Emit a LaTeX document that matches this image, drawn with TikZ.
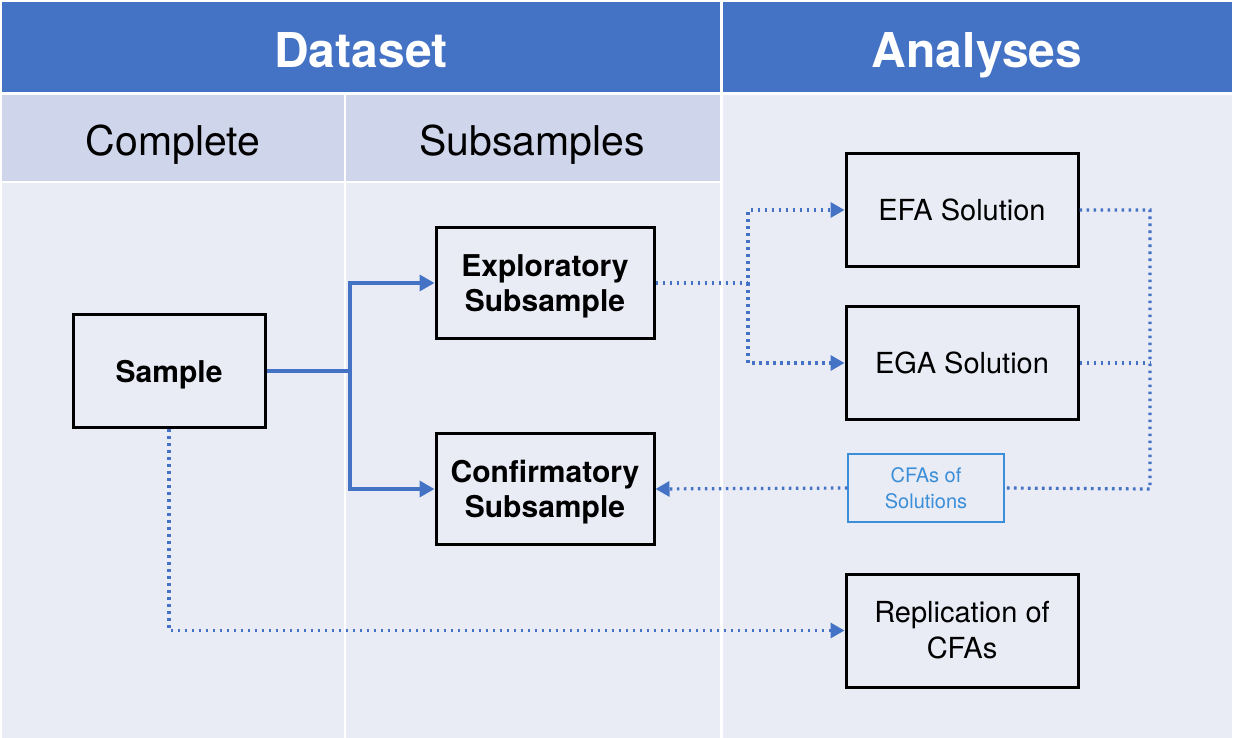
\documentclass[tikz,border=0pt]{standalone}
\usepackage{fontspec}
\setmainfont{TeX Gyre Heros}
\usetikzlibrary{arrows.meta}
\definecolor{hdrblue}{HTML}{4472C4}
\definecolor{subband}{HTML}{CFD5EA}
\definecolor{bodyband}{HTML}{E9EBF5}
\definecolor{linkblue}{HTML}{4472C4}
\definecolor{noteblue}{HTML}{3B8ED8}
\tikzset{
  hdrtext/.style={text=white, font=\fontsize{48}{56}\selectfont\bfseries, anchor=base, inner sep=0pt},
  subtext/.style={text=black, font=\fontsize{41}{48}\selectfont, anchor=base, inner sep=0pt},
  boxbase/.style={draw=black, line width=3pt, inner sep=0pt, align=center},
  boldbox/.style={boxbase, text depth=0pt, font=\fontsize{30}{35}\selectfont\bfseries},
  plainbox/.style={boxbase, font=\fontsize{29}{36}\selectfont},
  notebox/.style={draw=noteblue, line width=1.2pt, text=noteblue, fill=bodyband,
    inner sep=0pt, align=center, font=\fontsize{20}{26}\selectfont,
    minimum width=156pt, minimum height=68pt},
  solidlink/.style={draw=linkblue, line width=3.5pt,
    -{Triangle[length=15pt,width=16pt]}},
  dotline/.style={draw=linkblue, line width=3.2pt, dash pattern=on 2.6pt off 4.4pt},
  dotlink/.style={dotline, -{Triangle[length=14pt,width=15pt]}},
}
\begin{document}
\begin{tikzpicture}[x=1pt,y=-1pt]
\useasboundingbox (0,0) rectangle (1234,738);
\fill[white] (0,0) rectangle (1234,738);

% table cells
\fill[hdrblue] (2,2) rectangle (720,92);
\fill[hdrblue] (722.5,2) rectangle (1232,92);
\fill[subband] (2,95.5) rectangle (343.5,181);
\fill[subband] (345.5,95.5) rectangle (720,181);
\fill[bodyband] (2,183) rectangle (343.5,738);
\fill[bodyband] (345.5,183) rectangle (720,738);
\fill[bodyband] (722.5,95.5) rectangle (1232,738);

% column headings
\node[hdrtext] (dataset) at (361,68) {Dataset};
\node[hdrtext] (analyses) at (977,68) {Analyses};
\node[subtext] (complete) at (173,156) {Complete};
\node[subtext] (subsamples) at (532,156) {Subsamples};

% boxes
\node[boldbox, minimum width=192pt, minimum height=113pt] (sample) at (169,371) {Sample};
\node[boldbox, minimum width=218pt, minimum height=111pt] (explo) at (545,283) {Exploratory\\Subsample};
\node[boldbox, minimum width=218pt, minimum height=111pt] (confirm) at (545,489) {Confirmatory\\Subsample};
\node[plainbox, minimum width=232pt, minimum height=113pt] (efa) at (962,210) {EFA Solution};
\node[plainbox, minimum width=232pt, minimum height=113pt] (ega) at (962,363) {EGA Solution};
\node[plainbox, minimum width=232pt, minimum height=113pt] (repl) at (962,630.5) {Replication of\\CFAs};
\node[notebox] (cfas) at (926,488) {CFAs of\\Solutions};

% branch points
\coordinate (split) at (350,371);
\coordinate (fork) at (748,283);
\coordinate (merge) at (1150,489);

% splitting the sample
\draw[solidlink] (sample.east) -- (split) |- (explo.west);
\draw[solidlink] (split) |- (confirm.west);

% exploratory analyses
\draw[dotlink] (explo.east) -- (fork) |- (efa.west);
\draw[dotlink] (fork) |- (ega.west);

% confirmatory analyses
\draw[dotline] (efa.east) -| (merge) -- (cfas.east);
\draw[dotline] (ega.east) -- (ega.east -| merge);
\draw[dotlink] (cfas.west) -- (confirm.east);

% replication in the full sample
\draw[dotlink] (sample.south) |- (repl.west);
\end{tikzpicture}
\end{document}
